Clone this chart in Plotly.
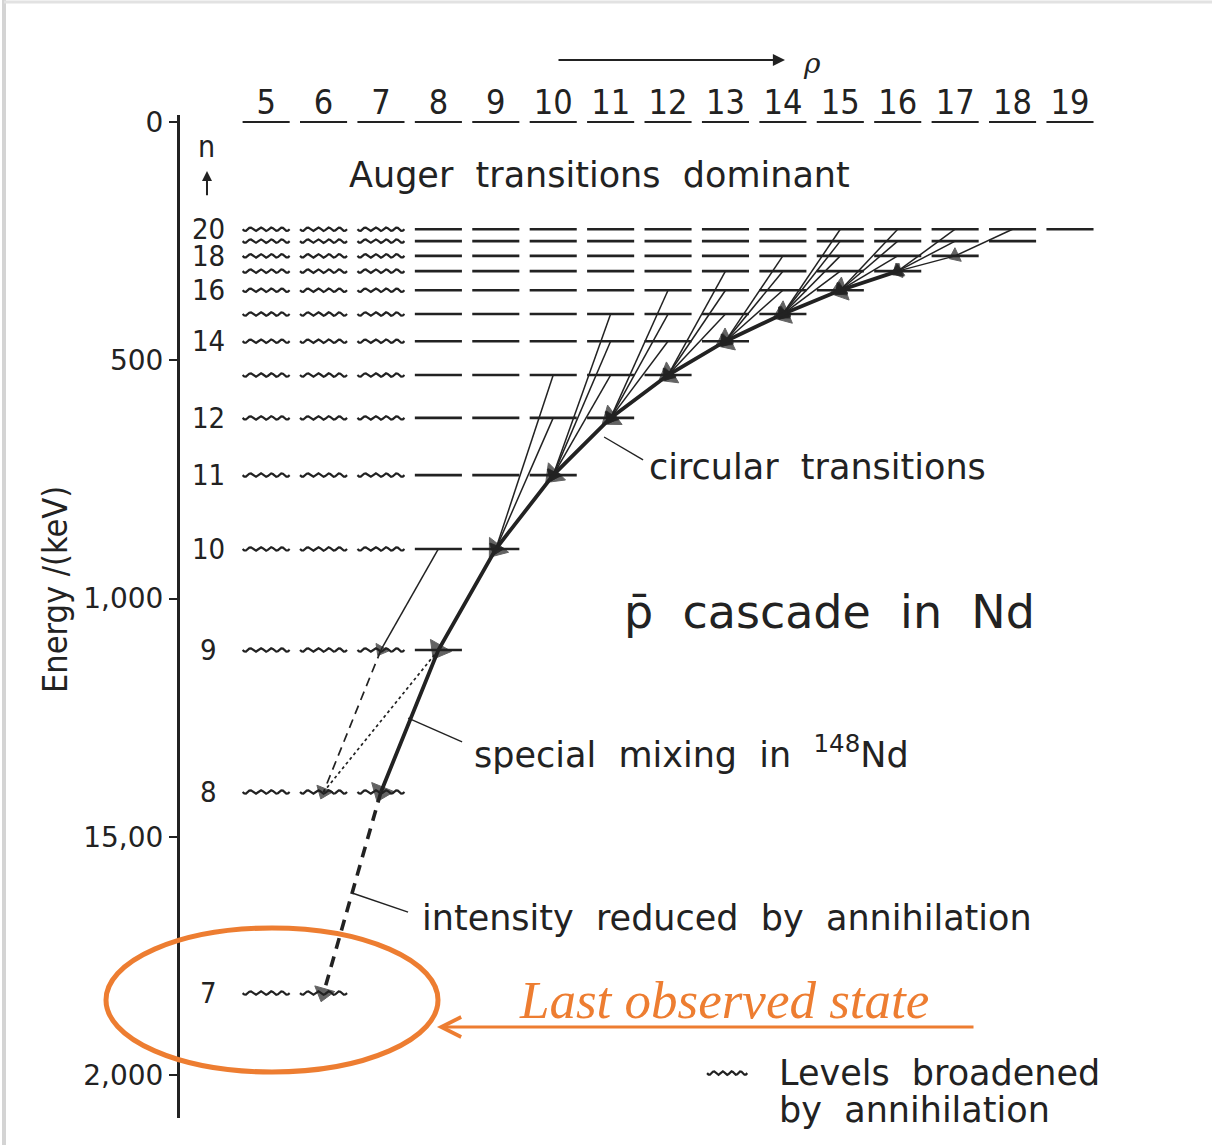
import numpy as np
import plotly.graph_objects as go

# ---------------------------------------------------------------------------
# Antiprotonic Nd: level energies (keV below the continuum) and cascade paths
# ---------------------------------------------------------------------------
n_levels = [20, 19, 18, 17, 16, 15, 14, 13, 12, 11, 10, 9, 8, 7]
level_energy = [225, 250, 281, 313, 353, 403, 460, 531, 621, 741, 896, 1108, 1406, 1828]
labelled_n = [20, 18, 16, 14, 12, 11, 10, 9, 8, 7]
l_values = list(range(5, 20))
l_tick_text = [str(v) for v in l_values]
broadened_max_l = 7          # levels with l <= 7 are broadened by annihilation
energy_ticks = [0, 500, 1000, 1500, 2000]
energy_tick_text = ["0", "500", "1,000", "15,00", "2,000"]

# circular chain (l = n - 1), drawn heavy
circular_n = [17, 16, 15, 14, 13, 12, 11, 10, 9, 8]
# last circular step, weakened by annihilation (n_from, l_from, n_to, l_to)
weakened_step = (8, 7, 7, 6)
# feeding transitions into the circular chain (n_from, l_from, n_to, l_to)
feeding = [
    (18, 17, 17, 16),
    (20, 18, 18, 17),
    (19, 17, 17, 16), (20, 17, 17, 16),
    (18, 16, 16, 15), (19, 16, 16, 15), (20, 16, 16, 15),
    (17, 15, 15, 14), (18, 15, 15, 14), (19, 15, 15, 14), (20, 15, 15, 14),
    (16, 14, 14, 13), (17, 14, 14, 13), (18, 14, 14, 13),
    (15, 13, 13, 12), (16, 13, 13, 12), (17, 13, 13, 12),
    (14, 12, 12, 11), (15, 12, 12, 11), (16, 12, 12, 11),
    (13, 11, 11, 10), (14, 11, 11, 10), (15, 11, 11, 10),
    (12, 10, 10, 9), (13, 10, 10, 9),
    (10, 8, 9, 7),
]
# special mixing in 148Nd
mixing_dashed = [(9, 7, 8, 6)]
mixing_dotted = [(9, 8, 8, 6)]

E = dict(zip(n_levels, level_energy))
INK = "#222222"
ORANGE = "#ED7D31"
TEXT_FONT = "DejaVu Sans, Verdana, sans-serif"
NARROW_FONT = "Liberation Sans Narrow, DejaVu Sans Condensed, Arial Narrow, sans-serif"

# page geometry (pixels) used to place items outside the axes
W, H = 1212, 1145
ML, MR, MT, MB = 180, 107, 115, 27


def px(x):
    return (x - ML) / (W - ML - MR)


def py(y):
    return 1 - (y - MT) / (H - MT - MB)


HALF = 0.41      # half width of a level bar in l units
WAVE_AMP = 3.6   # keV


def wavy(lc, e, half=HALF):
    t = np.linspace(-half, half, 29)
    y = e + WAVE_AMP * np.sin(2 * np.pi * 4.5 * (t + half) / (2 * half))
    return list(lc + t), list(y)


fig = go.Figure()

# --- level bars ------------------------------------------------------------
sx, sy, wx, wy = [], [], [], []
for n in n_levels:
    for l in range(5, n):
        if l <= broadened_max_l:
            xs, ys = wavy(l, E[n])
            wx += xs + [None]
            wy += ys + [None]
        else:
            sx += [l - HALF, l + HALF, None]
            sy += [E[n], E[n], None]

# continuum row under the l labels
tx, ty = [], []
for l in l_values:
    tx += [l - HALF, l + HALF, None]
    ty += [0, 0, None]

fig.add_trace(go.Scatter(x=sx, y=sy, mode="lines", line=dict(color=INK, width=2.6)))
fig.add_trace(go.Scatter(x=wx, y=wy, mode="lines", line=dict(color=INK, width=2.2)))
fig.add_trace(go.Scatter(x=tx, y=ty, mode="lines", line=dict(color=INK, width=2.2)))


def arrow_line(n0, l0, n1, l1, width, size, dash="solid"):
    fig.add_trace(go.Scatter(
        x=[l0, l1], y=[E[n0], E[n1]], mode="lines+markers",
        line=dict(color=INK, width=width, dash=dash),
        marker=dict(symbol="triangle-up", size=[0, size], color=INK,
                    angleref="previous", line=dict(width=1, color=INK)),
    ))


# --- feeding transitions ---------------------------------------------------
for n0, l0, n1, l1 in feeding:
    arrow_line(n0, l0, n1, l1, 1.5, 13)

for n0, l0, n1, l1 in mixing_dashed:
    arrow_line(n0, l0, n1, l1, 1.7, 15, dash="9px,6px")
for n0, l0, n1, l1 in mixing_dotted:
    fig.add_trace(go.Scatter(x=[l0, l1], y=[E[n0], E[n1]], mode="lines",
                             line=dict(color=INK, width=1.7, dash="dot")))

# --- circular transitions ---------------------------------------------------
cx = [n - 1 for n in circular_n]
cy = [E[n] for n in circular_n]
fig.add_trace(go.Scatter(
    x=cx, y=cy, mode="lines+markers",
    line=dict(color=INK, width=3.8),
    marker=dict(symbol="triangle-up", size=[0] + [21] * (len(cx) - 1), color=INK,
                angleref="previous", line=dict(width=1, color=INK)),
))
n0, l0, n1, l1 = weakened_step
arrow_line(n0, l0, n1, l1, 3.6, 18, dash="11px,8px")

# legend sample of a broadened level
lgx, lgy = wavy(13.03, 1996, half=0.35)
fig.add_trace(go.Scatter(x=lgx, y=lgy, mode="lines", line=dict(color=INK, width=2.2)))

# --- annotations -------------------------------------------------------------
ann = []
for n in labelled_n:
    ann.append(dict(x=3.99, y=E[n], text=str(n), showarrow=False, xanchor="center",
                    yanchor="middle", font=dict(family=NARROW_FONT, size=29, color=INK)))
ann.append(dict(x=3.97, y=52, text="n", showarrow=False, yanchor="middle",
                font=dict(family=NARROW_FONT, size=30, color=INK)))
ann.append(dict(x=3.97, y=103, ax=3.97, ay=157, axref="x", ayref="y", text="",
                showarrow=True, arrowhead=2, arrowsize=1, arrowwidth=2, arrowcolor=INK))

sp = "\u00a0\u00a0"
texts = [
    (10.80, 111, "Auger" + sp + "transitions" + sp + "dominant", 35, "center"),
    (11.63, 724, "circular" + sp + "transitions", 35, "left"),
    (11.20, 1028, "p\u0304" + sp + "cascade" + sp + "in" + sp + "Nd", 46, "left"),
    (8.59, 1322, "special" + sp + "mixing" + sp + "in" + sp + "<sup>148</sup>Nd", 35, "left"),
    (7.68, 1670, "intensity" + sp + "reduced" + sp + "by" + sp + "annihilation", 35, "left"),
    (13.90, 1996, "Levels" + sp + "broadened", 35, "left"),
    (13.90, 2073, "by" + sp + "annihilation", 35, "left"),
]
for x, y, t, s, anchor in texts:
    ann.append(dict(x=x, y=y, text=t, showarrow=False, xanchor=anchor, yanchor="middle",
                    font=dict(family=TEXT_FONT, size=s, color=INK)))

# axis title and the l-direction arrow sit outside the axes
ann.append(dict(xref="paper", yref="paper", x=px(55), y=py(590), text="Energy /(keV)",
                textangle=-90, showarrow=False, xanchor="center", yanchor="middle",
                font=dict(family=NARROW_FONT, size=34, color=INK)))
ann.append(dict(xref="paper", yref="paper", x=px(785), y=py(60), ax=-228, ay=0, text="",
                showarrow=True, arrowhead=2, arrowsize=1.1, arrowwidth=2.2, arrowcolor=INK))
ann.append(dict(xref="paper", yref="paper", x=px(812), y=py(64), text="<i>\u03c1</i>",
                showarrow=False, xanchor="center", yanchor="middle",
                font=dict(family="DejaVu Serif, serif", size=28, color=INK)))

# highlight of the last observed level
ann.append(dict(xref="paper", yref="paper", x=px(437), y=py(1027), ax=538, ay=0, text="",
                showarrow=True, arrowhead=5, arrowsize=1.3, arrowwidth=3, arrowcolor=ORANGE,
                standoff=0))
ann.append(dict(xref="paper", yref="paper", x=px(517), y=py(1000), text="<i>Last observed state</i>",
                xanchor="left", yanchor="middle", showarrow=False,
                font=dict(family="Liberation Serif, DejaVu Serif, serif", size=53, color=ORANGE)))

shapes = [
    # leader lines
    dict(type="line", x0=10.886, y0=661, x1=11.565, y1=709, line=dict(color=INK, width=1.4)),
    dict(type="line", x0=7.473, y0=1251, x1=8.413, y1=1301, line=dict(color=INK, width=1.4)),
    dict(type="line", x0=6.497, y0=1618, x1=7.472, y1=1658, line=dict(color=INK, width=1.4)),
    # orange ellipse
    dict(type="circle", xref="paper", yref="paper", x0=px(106), x1=px(438),
         y0=py(1072), y1=py(928), line=dict(color=ORANGE, width=5)),
    # slide border
    dict(type="line", xref="paper", yref="paper", x0=px(4), x1=px(4), y0=py(0), y1=py(H),
         line=dict(color="#d4d4d4", width=4)),
    dict(type="line", xref="paper", yref="paper", x0=px(4), x1=px(W), y0=py(2), y1=py(2),
         line=dict(color="#e2e2e2", width=3)),
]

fig.update_layout(
    width=W, height=H,
    margin=dict(l=ML, r=MR, t=MT, b=MB),
    paper_bgcolor="white", plot_bgcolor="white",
    showlegend=False, hovermode=False,
    annotations=ann, shapes=shapes,
    xaxis=dict(range=[3.5, 19.61], side="top", tickvals=l_values, ticktext=l_tick_text,
               showgrid=False, zeroline=False, showline=False, ticks="",
               ticklabelstandoff=-7,
               tickfont=dict(family=NARROW_FONT, size=34, color=INK)),
    yaxis=dict(range=[2090.2, -14.7], tickvals=energy_ticks, ticktext=energy_tick_text,
               showgrid=False, zeroline=False, showline=True, linecolor=INK, linewidth=3,
               ticks="outside", ticklen=8, tickwidth=2, tickcolor=INK,
               tickfont=dict(family=TEXT_FONT, size=28, color=INK)),
)

fig.write_html("out.html")
